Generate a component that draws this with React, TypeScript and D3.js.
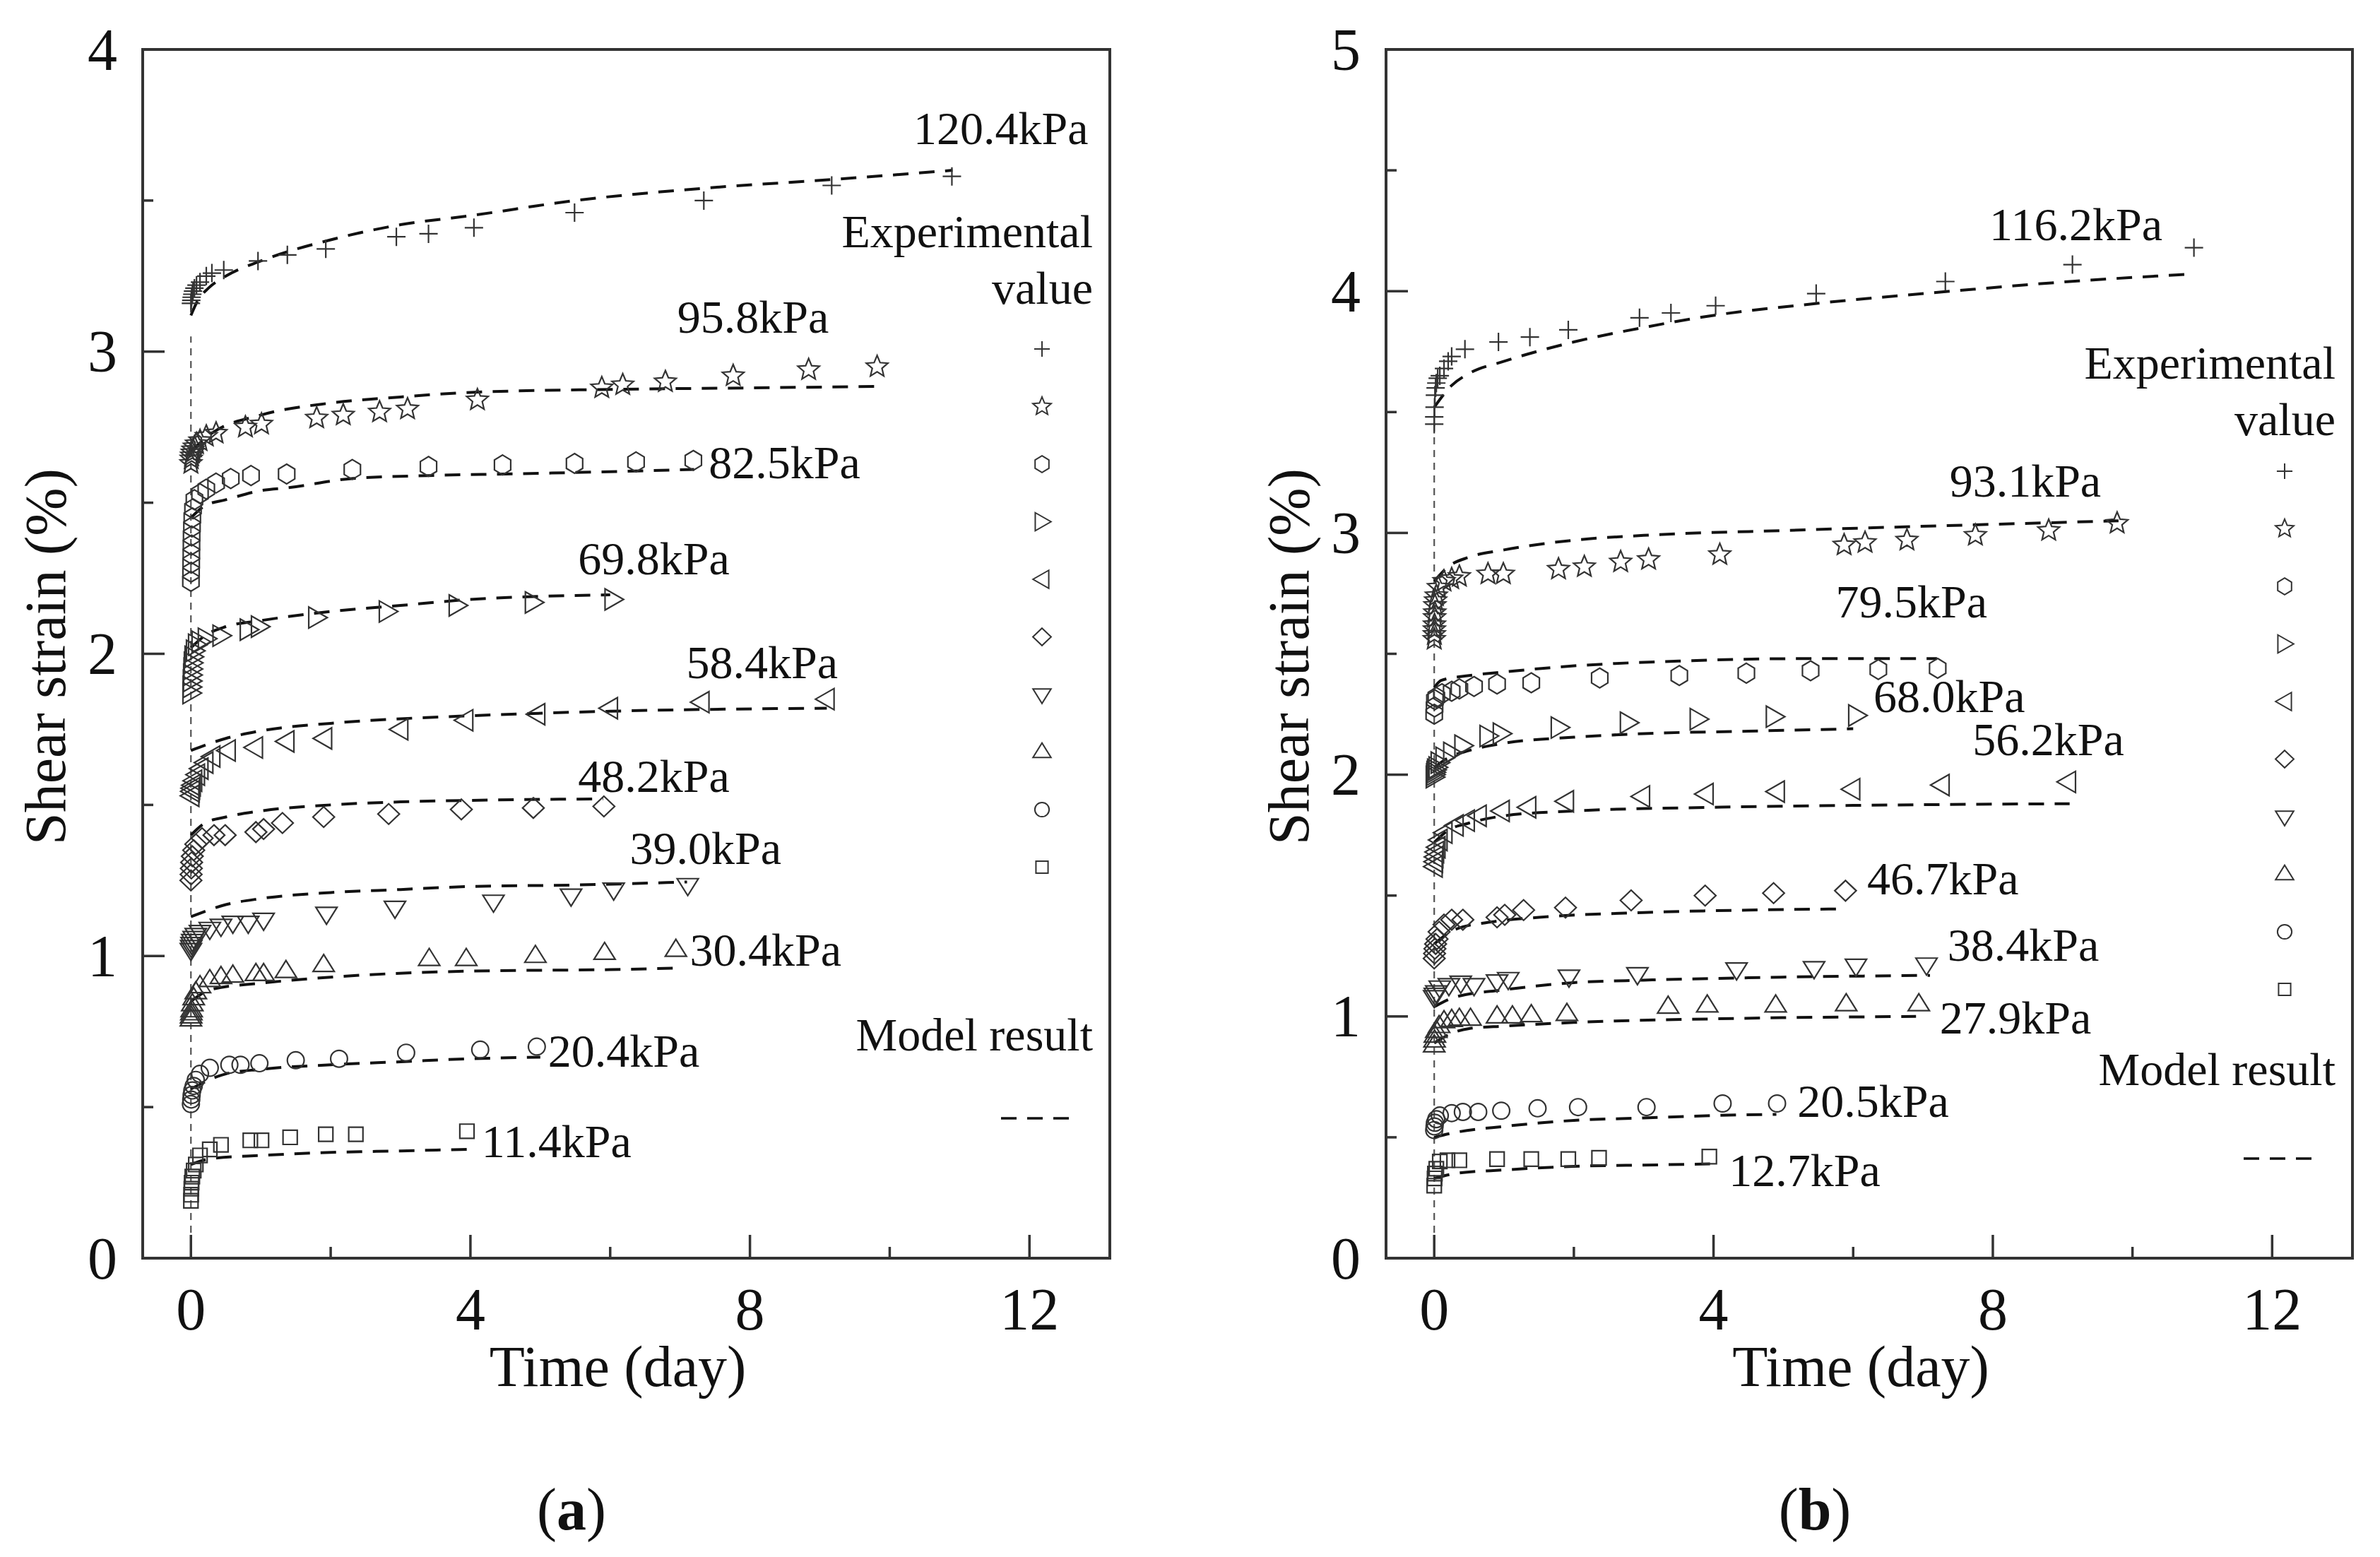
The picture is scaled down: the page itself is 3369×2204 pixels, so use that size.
import * as d3 from 'd3';

type Pt = [number, number];

// ---- panel (a): experimental values [time (day), shear strain (%)] ----
const expA1204: Pt[] = [[0,3.16],[0.005,3.17],[0.01,3.18],[0.02,3.19],[0.03,3.2],[0.05,3.21],[0.08,3.22],[0.13,3.23],[0.22,3.25],[0.3,3.26],[0.47,3.27],[0.96,3.3],[1.38,3.32],[1.93,3.34],[2.94,3.38],[3.4,3.39],[4.05,3.41],[5.49,3.46],[7.34,3.5],[9.17,3.55],[10.89,3.58]];
const expA958: Pt[] = [[0,2.63],[0.005,2.645],[0.01,2.655],[0.02,2.665],[0.03,2.675],[0.05,2.685],[0.08,2.695],[0.13,2.705],[0.22,2.72],[0.36,2.73],[0.78,2.75],[1.01,2.76],[1.8,2.78],[2.18,2.79],[2.7,2.8],[3.1,2.81],[4.1,2.84],[5.88,2.88],[6.18,2.89],[6.79,2.9],[7.76,2.92],[8.84,2.94],[9.82,2.95]];
const expA825: Pt[] = [[0,2.24],[0.002,2.27],[0.004,2.3],[0.006,2.33],[0.008,2.36],[0.01,2.39],[0.015,2.42],[0.02,2.45],[0.03,2.48],[0.05,2.51],[0.13,2.53],[0.22,2.545],[0.36,2.565],[0.57,2.58],[0.86,2.59],[1.37,2.595],[2.31,2.61],[3.4,2.62],[4.46,2.625],[5.49,2.63],[6.37,2.635],[7.19,2.64]];
const expA698: Pt[] = [[0,1.87],[0.003,1.89],[0.006,1.91],[0.01,1.93],[0.015,1.95],[0.02,1.97],[0.03,1.99],[0.05,2.01],[0.08,2.03],[0.13,2.04],[0.22,2.05],[0.43,2.06],[0.82,2.08],[0.98,2.09],[1.8,2.12],[2.81,2.14],[3.81,2.16],[4.9,2.17],[6.04,2.18]];
const expA584: Pt[] = [[0,1.53],[0.005,1.545],[0.01,1.555],[0.02,1.565],[0.04,1.58],[0.08,1.6],[0.13,1.62],[0.2,1.64],[0.3,1.66],[0.52,1.68],[0.91,1.69],[1.36,1.71],[1.9,1.72],[2.99,1.75],[3.92,1.78],[4.95,1.8],[5.99,1.82],[7.3,1.84],[9.09,1.85]];
const expA482: Pt[] = [[0,1.25],[0.003,1.27],[0.006,1.29],[0.01,1.31],[0.02,1.33],[0.04,1.35],[0.07,1.37],[0.16,1.39],[0.33,1.4],[0.49,1.4],[0.93,1.41],[1.04,1.42],[1.31,1.44],[1.9,1.46],[2.83,1.47],[3.87,1.485],[4.9,1.49],[5.91,1.495]];
const expA390: Pt[] = [[0,1.02],[0.005,1.03],[0.01,1.04],[0.02,1.05],[0.04,1.06],[0.07,1.07],[0.13,1.08],[0.27,1.09],[0.43,1.1],[0.6,1.11],[0.82,1.11],[1.04,1.12],[1.94,1.14],[2.92,1.16],[4.33,1.18],[5.44,1.2],[6.05,1.22],[7.11,1.235]];
const expA304: Pt[] = [[0,0.79],[0.003,0.8],[0.006,0.81],[0.01,0.82],[0.02,0.84],[0.04,0.86],[0.07,0.88],[0.13,0.9],[0.27,0.92],[0.43,0.93],[0.6,0.935],[0.93,0.94],[1.04,0.94],[1.36,0.95],[1.9,0.97],[3.41,0.99],[3.94,0.99],[4.93,1.0],[5.92,1.01],[6.94,1.02]];
const expA204: Pt[] = [[0,0.51],[0.005,0.525],[0.01,0.54],[0.02,0.555],[0.04,0.57],[0.07,0.59],[0.13,0.61],[0.27,0.63],[0.55,0.64],[0.71,0.64],[0.98,0.645],[1.5,0.655],[2.12,0.66],[3.08,0.68],[4.14,0.69],[4.95,0.7]];
const expA114: Pt[] = [[0,0.19],[0.003,0.21],[0.006,0.23],[0.01,0.25],[0.02,0.27],[0.04,0.29],[0.07,0.31],[0.13,0.34],[0.27,0.36],[0.43,0.375],[0.85,0.39],[1.01,0.39],[1.42,0.4],[1.93,0.41],[2.36,0.41],[3.95,0.42]];

// ---- panel (a): model results ----
const modA1204: Pt[] = [[0,3.12],[0.1,3.17],[0.25,3.21],[0.5,3.25],[1,3.3],[2,3.37],[3,3.42],[4,3.45],[5.5,3.5],[7.3,3.54],[9.2,3.57],[10.9,3.6]];
const modA958: Pt[] = [[0,2.67],[0.3,2.73],[1,2.79],[2,2.83],[3,2.85],[4,2.865],[6,2.875],[8,2.88],[9.8,2.885]];
const modA825: Pt[] = [[0,2.45],[0.2,2.49],[0.5,2.51],[1,2.54],[1.4,2.55],[2.3,2.58],[3.4,2.59],[4.5,2.595],[5.5,2.6],[7.2,2.61]];
const modA698: Pt[] = [[0,2.02],[0.2,2.06],[0.5,2.09],[1,2.11],[2,2.14],[3,2.16],[4,2.18],[6,2.195]];
const modA584: Pt[] = [[0,1.68],[0.5,1.72],[1,1.745],[2,1.77],[3,1.785],[4,1.795],[6,1.81],[9.1,1.82]];
const modA482: Pt[] = [[0,1.4],[0.2,1.44],[0.5,1.46],[1,1.48],[2,1.5],[3,1.51],[4,1.515],[5.9,1.52]];
const modA390: Pt[] = [[0,1.13],[0.5,1.17],[1,1.19],[2,1.21],[3,1.22],[4,1.23],[5.5,1.235],[7.1,1.245]];
const modA304: Pt[] = [[0,0.85],[0.3,0.89],[1,0.91],[2,0.93],[4,0.95],[6,0.955],[7,0.96]];
const modA204: Pt[] = [[0,0.56],[0.5,0.61],[1,0.625],[2,0.64],[3,0.65],[4,0.66],[5,0.665]];
const modA114: Pt[] = [[0,0.31],[0.3,0.33],[1,0.34],[2,0.35],[3,0.355],[3.95,0.36]];

// ---- panel (b): experimental values ----
const expB1162: Pt[] = [[0,3.45],[0,3.48],[0.005,3.52],[0.01,3.57],[0.02,3.6],[0.03,3.62],[0.05,3.64],[0.08,3.65],[0.14,3.68],[0.2,3.71],[0.25,3.73],[0.44,3.76],[0.92,3.79],[1.37,3.81],[1.92,3.84],[2.94,3.89],[3.39,3.91],[4.03,3.94],[5.47,3.99],[7.32,4.04],[9.14,4.11],[10.88,4.18]];
const expB931: Pt[] = [[0,2.56],[0.002,2.58],[0.003,2.6],[0.004,2.62],[0.006,2.65],[0.008,2.67],[0.01,2.7],[0.02,2.72],[0.03,2.74],[0.06,2.775],[0.14,2.8],[0.25,2.81],[0.36,2.82],[0.77,2.83],[0.99,2.83],[1.78,2.85],[2.15,2.86],[2.67,2.88],[3.07,2.89],[4.09,2.91],[5.87,2.95],[6.17,2.96],[6.77,2.97],[7.75,2.99],[8.8,3.01],[9.78,3.04]];
const expB795: Pt[] = [[0,2.25],[0.005,2.28],[0.01,2.31],[0.03,2.32],[0.11,2.335],[0.25,2.345],[0.36,2.355],[0.57,2.365],[0.9,2.375],[1.39,2.38],[2.37,2.4],[3.51,2.41],[4.47,2.42],[5.39,2.43],[6.36,2.435],[7.21,2.44]];
const expB680: Pt[] = [[0,1.99],[0.005,2.0],[0.01,2.01],[0.02,2.02],[0.04,2.03],[0.07,2.05],[0.14,2.07],[0.25,2.09],[0.41,2.12],[0.77,2.16],[0.96,2.17],[1.79,2.195],[2.78,2.215],[3.78,2.23],[4.87,2.24],[6.05,2.245]];
const expB562: Pt[] = [[0,1.62],[0.005,1.64],[0.01,1.66],[0.02,1.68],[0.04,1.7],[0.07,1.73],[0.14,1.76],[0.3,1.79],[0.46,1.81],[0.63,1.83],[0.96,1.85],[1.34,1.865],[1.88,1.89],[2.97,1.91],[3.88,1.92],[4.9,1.93],[5.98,1.94],[7.26,1.957],[9.07,1.97]];
const expB467: Pt[] = [[0,1.24],[0.005,1.26],[0.01,1.28],[0.02,1.3],[0.04,1.32],[0.07,1.35],[0.14,1.38],[0.25,1.4],[0.41,1.4],[0.9,1.41],[1.01,1.42],[1.28,1.44],[1.88,1.45],[2.82,1.48],[3.88,1.5],[4.86,1.51],[5.89,1.52]];
const expB384: Pt[] = [[0,1.08],[0.01,1.09],[0.03,1.1],[0.08,1.12],[0.21,1.13],[0.38,1.14],[0.57,1.13],[0.9,1.145],[1.06,1.155],[1.93,1.165],[2.91,1.175],[4.33,1.195],[5.44,1.2],[6.04,1.21],[7.05,1.215]];
const expB279: Pt[] = [[0,0.88],[0.005,0.9],[0.01,0.92],[0.03,0.94],[0.07,0.96],[0.14,0.98],[0.25,0.985],[0.36,0.99],[0.52,0.99],[0.9,1.0],[1.12,1.0],[1.39,1.005],[1.9,1.01],[3.35,1.04],[3.91,1.045],[4.89,1.045],[5.9,1.05],[6.94,1.05]];
const expB205: Pt[] = [[0,0.53],[0.005,0.545],[0.01,0.56],[0.03,0.575],[0.08,0.59],[0.25,0.6],[0.41,0.605],[0.63,0.605],[0.96,0.61],[1.48,0.62],[2.06,0.625],[3.04,0.625],[4.13,0.64],[4.91,0.64]];
const expB127: Pt[] = [[0,0.3],[0.005,0.33],[0.01,0.35],[0.03,0.37],[0.08,0.4],[0.19,0.405],[0.36,0.405],[0.9,0.41],[1.39,0.41],[1.92,0.41],[2.36,0.415],[3.94,0.42]];

// ---- panel (b): model results ----
const modB1162: Pt[] = [[0,3.52],[0.25,3.61],[0.5,3.66],[1,3.71],[2,3.79],[3,3.85],[4,3.9],[5.5,3.95],[7.4,4.0],[9.1,4.04],[10.8,4.07]];
const modB931: Pt[] = [[0,2.8],[0.2,2.86],[0.5,2.9],[1,2.93],[2,2.97],[3,2.99],[5,3.01],[7.3,3.03],[9.8,3.05]];
const modB795: Pt[] = [[0,2.36],[0.1,2.39],[0.5,2.41],[1,2.425],[2,2.45],[3.5,2.47],[5.2,2.48],[7.2,2.48]];
const modB680: Pt[] = [[0,2.03],[0.2,2.07],[0.5,2.1],[1,2.13],[2,2.155],[3,2.17],[4.5,2.18],[6,2.19]];
const modB562: Pt[] = [[0,1.72],[0.2,1.77],[0.5,1.8],[1,1.83],[2,1.85],[4,1.865],[6,1.873],[9.1,1.88]];
const modB467: Pt[] = [[0,1.3],[0.3,1.36],[0.8,1.39],[1.5,1.41],[3,1.43],[4.5,1.44],[5.9,1.445]];
const modB384: Pt[] = [[0,1.04],[0.3,1.08],[1,1.11],[2,1.14],[3,1.15],[4.5,1.16],[7.1,1.17]];
const modB279: Pt[] = [[0,0.89],[0.25,0.93],[0.5,0.95],[1,0.96],[2,0.975],[4,0.99],[6.9,1.0]];
const modB205: Pt[] = [[0,0.5],[0.3,0.52],[1,0.545],[2,0.57],[3,0.58],[4,0.59],[4.9,0.595]];
const modB127: Pt[] = [[0,0.33],[0.3,0.35],[1,0.365],[2,0.38],[3,0.385],[3.95,0.39]];

// load labels and where they sit (data units)
const loadsA = ['120.4kPa', '95.8kPa', '82.5kPa', '69.8kPa', '58.4kPa', '48.2kPa', '39.0kPa', '30.4kPa', '20.4kPa', '11.4kPa'];
const loadsB = ['116.2kPa', '93.1kPa', '79.5kPa', '68.0kPa', '56.2kPa', '46.7kPa', '38.4kPa', '27.9kPa', '20.5kPa', '12.7kPa'];
const labelAtA: Pt[] = [[10.34,3.687],[6.96,3.063],[7.41,2.58],[5.54,2.262],[7.09,1.92],[5.54,1.544],[6.28,1.304],[7.14,0.967],[5.11,0.634],[4.16,0.334]];
const labelAtB: Pt[] = [[7.95,4.21],[7.38,3.15],[5.75,2.65],[6.29,2.26],[7.71,2.08],[6.2,1.506],[7.35,1.231],[7.24,0.93],[5.2,0.583],[4.22,0.298]];

const markerKinds = ['plus', 'star', 'hexagon', 'right', 'left', 'diamond', 'down', 'up', 'circle', 'square'];

const xTicks = [0, 4, 8, 12];
const xMinorTicks = [2, 6, 10];
const xDomain: [number, number] = [-0.69, 13.15];

const FONT = "'Liberation Serif', 'Times New Roman', Times, serif";
const INK = '#333';

function markerPath(kind: string, r: number): string {
  const p = d3.path();
  const poly = (pts: Pt[]) => {
    pts.forEach((q, i) => (i ? p.lineTo(q[0], q[1]) : p.moveTo(q[0], q[1])));
    p.closePath();
  };
  switch (kind) {
    case 'plus':
      p.moveTo(-r, 0); p.lineTo(r, 0); p.moveTo(0, -r); p.lineTo(0, r);
      break;
    case 'star':
      poly(d3.range(10).map((i) => {
        const a = -Math.PI / 2 + (i * Math.PI) / 5;
        const rr = i % 2 ? r * 0.45 : r;
        return [rr * Math.cos(a), rr * Math.sin(a)] as Pt;
      }));
      break;
    case 'hexagon':
      poly(d3.range(6).map((i) => {
        const a = -Math.PI / 2 + (i * Math.PI) / 3;
        return [r * 0.95 * Math.cos(a), r * Math.sin(a)] as Pt;
      }));
      break;
    case 'right': poly([[-0.75 * r, -r], [r, 0], [-0.75 * r, r]]); break;
    case 'left': poly([[0.75 * r, -r], [-r, 0], [0.75 * r, r]]); break;
    case 'diamond': poly([[0, -r], [1.05 * r, 0], [0, r], [-1.05 * r, 0]]); break;
    case 'down': poly([[-r, -0.6 * r], [r, -0.6 * r], [0, r]]); break;
    case 'up': poly([[-r, 0.6 * r], [r, 0.6 * r], [0, -r]]); break;
    case 'circle': p.moveTo(0.85 * r, 0); p.arc(0, 0, 0.85 * r, 0, 2 * Math.PI); break;
    default: p.rect(-0.72 * r, -0.72 * r, 1.44 * r, 1.44 * r);
  }
  return p.toString();
}

const markerSize: Record<string, number> = {
  plus: 13, star: 16, hexagon: 14, right: 15, left: 15, diamond: 14.5, down: 15, up: 15, circle: 14, square: 14,
};

interface PanelCfg {
  left: number; top: number; width: number; height: number; yMax: number; vTop: number; caption: string;
  exp: Pt[][]; mod: Pt[][]; loads: string[]; labelAt: Pt[];
  legExpY: number; legMarkY: number; legModY: number; legDashY: number;
}

function Panel({ c }: { c: PanelCfg }) {
  const x = d3.scaleLinear().domain(xDomain).range([c.left, c.left + c.width]);
  const y = d3.scaleLinear().domain([0, c.yMax]).range([c.top + c.height, c.top]);
  const line = d3.line<Pt>().x((d) => x(d[0])).y((d) => y(d[1])).curve(d3.curveMonotoneX);
  const bottom = c.top + c.height;
  const right = c.left + c.width;
  const yTicks = d3.range(0, c.yMax + 1);
  const yMinor = d3.range(0.5, c.yMax, 1);

  return (
    <g>
      {/* x = 0 guide */}
      <line x1={x(0)} x2={x(0)} y1={y(0)} y2={y(c.vTop)} stroke="#555" strokeWidth={2.2} strokeDasharray="10 8" />

      {/* model curves */}
      {c.mod.map((m, i) => (
        <path key={'m' + i} d={line(m) || ''} fill="none" stroke="#111" strokeWidth={4} strokeDasharray="22 15" />
      ))}

      {/* experimental points */}
      {c.exp.map((s, i) => (
        <g key={'e' + i}>
          {s.map((d, j) => (
            <path key={j} transform={`translate(${x(d[0])},${y(d[1])})`}
              d={markerPath(markerKinds[i], markerSize[markerKinds[i]])}
              fill="none" stroke={INK} strokeWidth={2.2} />
          ))}
        </g>
      ))}

      {/* load labels */}
      {c.loads.map((t, i) => (
        <text key={'l' + i} x={x(c.labelAt[i][0])} y={y(c.labelAt[i][1])} fontSize={66} fontFamily={FONT} fill="#111">{t}</text>
      ))}

      {/* legend */}
      <text x={right - 24} y={c.legExpY} textAnchor="end" fontSize={66} fontFamily={FONT} fill="#111">Experimental</text>
      <text x={right - 24} y={c.legExpY + 80} textAnchor="end" fontSize={66} fontFamily={FONT} fill="#111">value</text>
      {markerKinds.map((k, i) => (
        <path key={'lg' + k} transform={`translate(${right - 96},${c.legMarkY + i * 81.5})`}
          d={markerPath(k, markerSize[k] * 0.85)} fill="none" stroke={INK} strokeWidth={2} />
      ))}
      <text x={right - 24} y={c.legModY} textAnchor="end" fontSize={66} fontFamily={FONT} fill="#111">Model result</text>
      <line x1={right - 154} x2={right - 55} y1={c.legDashY} y2={c.legDashY} stroke="#111" strokeWidth={3.5} strokeDasharray="22 15" />

      {/* frame */}
      <rect x={c.left} y={c.top} width={c.width} height={c.height} fill="none" stroke={INK} strokeWidth={4} />

      {/* ticks */}
      {xTicks.map((t) => (
        <g key={'xt' + t}>
          <line x1={x(t)} x2={x(t)} y1={bottom} y2={bottom - 33} stroke={INK} strokeWidth={3.5} />
          <text x={x(t)} y={bottom + 101} textAnchor="middle" fontSize={84} fontFamily={FONT} fill="#111">{t}</text>
        </g>
      ))}
      {xMinorTicks.map((t) => (
        <line key={'xm' + t} x1={x(t)} x2={x(t)} y1={bottom} y2={bottom - 16} stroke={INK} strokeWidth={3.5} />
      ))}
      {yTicks.map((t) => (
        <g key={'yt' + t}>
          <line x1={c.left} x2={c.left + 31} y1={y(t)} y2={y(t)} stroke={INK} strokeWidth={3.5} />
          <text x={c.left - 36} y={y(t)} dy="0.34em" textAnchor="end" fontSize={84} fontFamily={FONT} fill="#111">{t}</text>
        </g>
      ))}
      {yMinor.map((t) => (
        <line key={'ym' + t} x1={c.left} x2={c.left + 15} y1={y(t)} y2={y(t)} stroke={INK} strokeWidth={3.5} />
      ))}

      {/* axis titles */}
      <text x={c.left + c.width / 2 - 12} y={bottom + 181} textAnchor="middle" fontSize={82} fontFamily={FONT} fill="#111">Time (day)</text>
      <text transform={`translate(${c.left - 110},${c.top + c.height / 2 + 4}) rotate(-90)`} textAnchor="middle" fontSize={82} fontFamily={FONT} fill="#111">Shear strain (%)</text>

      {/* caption */}
      <text x={c.left + 607} y={bottom + 384} textAnchor="middle" fontSize={84} fontFamily={FONT} fill="#111">
        (<tspan fontWeight="bold">{c.caption}</tspan>)
      </text>
    </g>
  );
}

const panelA: PanelCfg = {
  left: 202, top: 70, width: 1369, height: 1711, yMax: 4, vTop: 3.05, caption: 'a',
  exp: [expA1204, expA958, expA825, expA698, expA584, expA482, expA390, expA304, expA204, expA114],
  mod: [modA1204, modA958, modA825, modA698, modA584, modA482, modA390, modA304, modA204, modA114],
  loads: loadsA, labelAt: labelAtA,
  legExpY: 350, legMarkY: 494, legModY: 1487, legDashY: 1583,
};

const panelB: PanelCfg = {
  left: 1962, top: 70, width: 1368, height: 1711, yMax: 5, vTop: 3.45, caption: 'b',
  exp: [expB1162, expB931, expB795, expB680, expB562, expB467, expB384, expB279, expB205, expB127],
  mod: [modB1162, modB931, modB795, modB680, modB562, modB467, modB384, modB279, modB205, modB127],
  loads: loadsB, labelAt: labelAtB,
  legExpY: 536, legMarkY: 667, legModY: 1536, legDashY: 1640,
};

export default function App() {
  return (
    <svg width={3369} height={2204} viewBox="0 0 3369 2204"
      style={{ position: 'absolute', left: 0, top: 0, display: 'block', background: '#fff' }}>
      <rect x={0} y={0} width={3369} height={2204} fill="#fff" />
      <Panel c={panelA} />
      <Panel c={panelB} />
    </svg>
  );
}
